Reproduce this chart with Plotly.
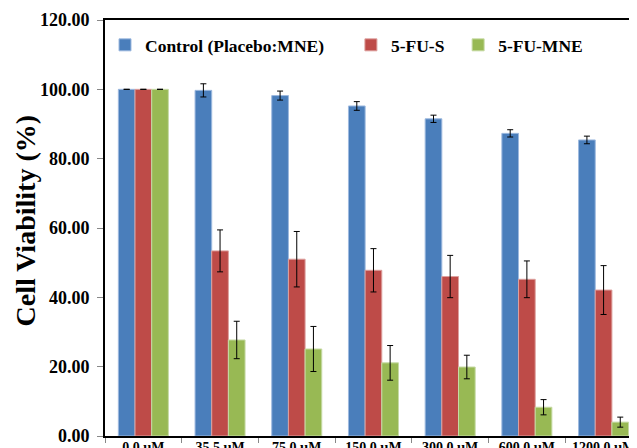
import plotly.graph_objects as go

categories = ["0.0 µM", "35.5 µM", "75.0 µM", "150.0 µM", "300.0 µM", "600.0 µM", "1200.0 µM"]
series_names = ["Control (Placebo:MNE)", "5-FU-S", "5-FU-MNE"]
control = [100.0, 99.7, 98.2, 95.2, 91.5, 87.3, 85.4]
control_err = [0.0, 1.9, 1.3, 1.25, 1.05, 1.05, 1.1]
fus = [100.0, 53.4, 51.0, 47.8, 46.0, 45.2, 42.1]
fus_err = [0.0, 6.05, 8.0, 6.25, 6.1, 5.3, 7.05]
fumne = [100.0, 27.7, 25.1, 21.1, 19.9, 8.3, 4.0]
fumne_err = [0.0, 5.4, 6.5, 5.0, 3.4, 2.2, 1.45]
y_title = "Cell Viability (%)"
colors = ["#4A7EBB", "#BE4B48", "#98B954"]
edge = ["#9DB9DF", "#DDA09E", "#C6DAA5"]

font_family = "Liberation Serif"
pads = ["\u00a0" * 5, "\u00a0" * 2, ""]

fig = go.Figure()
for name, vals, errs, c, e, p in zip(series_names, [control, fus, fumne],
                                     [control_err, fus_err, fumne_err], colors, edge, pads):
    fig.add_trace(go.Bar(
        x=categories, y=vals, name=name + p,
        marker=dict(color=c, line=dict(color=e, width=1)),
        error_y=dict(type="data", array=errs, color="black", thickness=1, width=3),
    ))

fig.update_layout(
    width=637, height=448,
    margin=dict(l=97, r=0, t=12, b=20, autoexpand=False),
    plot_bgcolor="white", paper_bgcolor="white",
    barmode="group", bargap=0.348, bargroupgap=0,
    font=dict(family=font_family, color="black", weight="bold"),
    legend=dict(
        orientation="h", x=0.0, y=0.94, xanchor="left", yanchor="middle",
        font=dict(family=font_family, size=17.5, color="black", weight="bold"),
        bgcolor="rgba(0,0,0,0)", itemwidth=30, tracegroupgap=0,
    ),
    showlegend=True,
    annotations=[dict(
        text=y_title, xref="paper", yref="paper", x=-0.1463, y=0.518,
        xanchor="center", yanchor="middle", textangle=-90, showarrow=False,
        font=dict(family=font_family, size=28, color="black", weight="bold"),
    )],
)
fig.update_xaxes(
    range=[-0.5, 6.54], showline=True, linecolor="black", linewidth=2, mirror=True,
    ticks="outside", tickson="boundaries", ticklen=5, tickcolor="#888888",
    ticklabelstandoff=-3,
    tickfont=dict(family=font_family, size=14, color="black", weight="bold"),
    showgrid=False, fixedrange=True, automargin=False,
)
fig.update_yaxes(
    range=[0, 120], dtick=20, tickformat=".2f",
    showline=True, linecolor="black", linewidth=2,
    ticks="outside", ticklen=6, tickcolor="#888888", ticklabelstandoff=4,
    tickfont=dict(family=font_family, size=18, color="black", weight="bold"),
    showgrid=False, zeroline=False, automargin=False,
)

fig.write_html("out.html")
